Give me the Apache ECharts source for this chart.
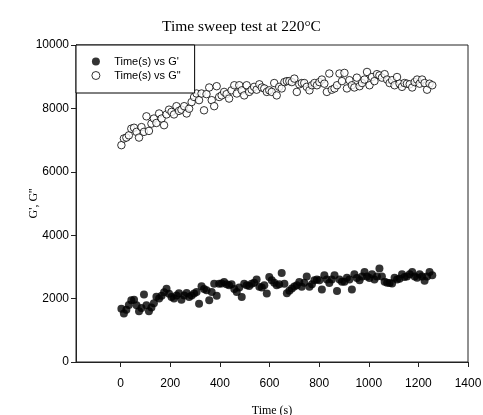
<!DOCTYPE html>
<html lang="en">
<head>
    <meta charset="UTF-8">
    <title>Time sweep test</title>
    <script src="https://cdn.jsdelivr.net/npm/echarts@6/dist/echarts.min.js"></script>
    <style>
        html, body { margin: 0; padding: 0; background: #fff; }
        #main { width: 483px; height: 415px; }
    </style>
</head>
<body>
<div id="main"></div>
<script>
    // time (s)
    var timeS = [3,13,23,33,43,54,64,74,84,94,104,114,124,134,144,155,165,175,185,195,
        205,215,225,235,245,256,266,276,286,296,306,316,326,336,346,357,367,377,387,397,
        407,417,427,437,447,458,468,478,488,498,508,518,528,538,548,559,569,579,589,599,
        609,619,629,639,649,660,670,680,690,700,710,720,730,740,750,761,771,781,791,801,
        811,821,831,841,851,862,872,882,892,902,912,922,932,942,952,963,973,983,993,1003,
        1013,1023,1033,1043,1053,1064,1074,1084,1094,1104,1114,1124,1134,1144,1154,1165,1175,1185,1195,1205,
        1215,1225,1235,1245,1256];

    // G' (filled)
    var gPrime = [1680,1530,1650,1800,1950,1960,1790,1600,1700,2130,1790,1600,1720,1850,2060,2000,2090,2200,2310,2150,
        2050,2000,2100,2170,1960,2100,2180,2050,2100,2160,2210,1840,2390,2300,2260,1950,2210,2470,2090,2470,
        2480,2520,2450,2420,2450,2300,2210,2350,2050,2470,2420,2400,2470,2500,2600,2370,2350,2420,2160,2680,
        2580,2500,2420,2450,2810,2470,2170,2250,2320,2380,2420,2520,2370,2500,2700,2370,2450,2580,2600,2580,
        2290,2740,2600,2490,2600,2740,2240,2600,2530,2530,2660,2600,2290,2770,2650,2580,2700,2840,2700,2650,
        2770,2600,2700,2950,2700,2530,2500,2490,2480,2660,2600,2630,2770,2680,2700,2770,2840,2700,2660,2770,
        2700,2560,2700,2840,2740];

    // G'' (open)
    var gDouble = [6840,7050,7080,7150,7360,7390,7260,7080,7410,7260,7750,7290,7520,7680,7540,7840,7680,7470,7810,7960,
        7890,7810,8070,7920,7960,8070,7840,7990,8200,8360,8470,8260,8470,7940,8450,8660,8260,8070,8700,8360,
        8410,8520,8450,8310,8570,8730,8470,8730,8570,8410,8730,8520,8590,8680,8590,8760,8660,8630,8520,8570,
        8520,8800,8410,8680,8630,8830,8860,8860,8830,8940,8520,8760,8800,8800,8680,8570,8730,8800,8730,8830,
        8910,8780,8520,9100,8590,8630,8730,9100,8860,9120,8630,8890,8730,8660,8970,8700,8800,8910,9150,8730,
        8990,8860,9080,9040,8970,9080,8910,8800,8890,8730,8990,8780,8680,8800,8780,8760,8660,8830,8910,8780,
        8910,8800,8590,8780,8730];

    var xTicks = [0, 200, 400, 600, 800, 1000, 1200, 1400];

    function pairs(xs, ys) {
        var out = [];
        for (var i = 0; i < xs.length; i++) {
            out.push([xs[i], ys[i]]);
        }
        return out;
    }

    var myChart = echarts.init(document.getElementById('main'));

    var sans = 'Arial, "Liberation Sans", sans-serif';
    var serif = '"Times New Roman", "Liberation Serif", serif';

    var options = {
        animation: false,
        title: {
            text: 'Time sweep test at 220°C',
            left: 'center',
            top: 14,
            textStyle: {fontFamily: serif, fontSize: 15.5, fontWeight: 'normal', color: '#000'}
        },
        grid: {
            left: 76, top: 45, right: 15, bottom: 53,
            outerBoundsMode: 'none',
            show: true, borderColor: '#222', borderWidth: 1, backgroundColor: 'transparent'
        },
        legend: {
            orient: 'vertical',
            left: 76, top: 45,
            padding: [10, 14, 11, 15.4],
            itemWidth: 26.6, itemHeight: 8, itemGap: 1,
            borderColor: '#000', borderWidth: 1,
            backgroundColor: '#fff',
            itemStyle: {borderWidth: 1},
            textStyle: {fontFamily: sans, fontSize: 11, color: '#000', lineHeight: 13},
            data: ["Time(s) vs G'", 'Time(s) vs G"']
        },
        xAxis: {
            type: 'value',
            min: -180, max: 1400,
            name: 'Time (s)',
            nameLocation: 'middle',
            nameGap: 43,
            nameMoveOverlap: false,
            nameTextStyle: {fontFamily: serif, fontSize: 12, color: '#000'},
            splitLine: {show: false},
            axisLine: {show: true, onZero: false, lineStyle: {color: '#222'}},
            axisTick: {show: true, inside: false, length: 5, customValues: xTicks, lineStyle: {color: '#222'}},
            axisLabel: {customValues: xTicks, margin: 16, fontFamily: sans, fontSize: 12, color: '#000',
                formatter: function (v) { return String(v); }}
        },
        yAxis: {
            type: 'value',
            min: 0, max: 10000, interval: 2000,
            name: "G', G''",
            nameLocation: 'middle',
            nameGap: 36,
            nameMoveOverlap: false,
            nameTextStyle: {fontFamily: serif, fontSize: 12, color: '#000'},
            splitLine: {show: false},
            axisLine: {show: true, onZero: false, lineStyle: {color: '#222'}},
            axisTick: {show: true, inside: false, length: 5, lineStyle: {color: '#222'}},
            axisLabel: {margin: 7, fontFamily: sans, fontSize: 12, color: '#000',
                formatter: function (v) { return String(v); }}
        },
        series: [{
            name: "Time(s) vs G'",
            type: 'scatter',
            symbol: 'circle',
            symbolSize: 8,
            itemStyle: {color: '#000'},
            data: pairs(timeS, gPrime)
        }, {
            name: 'Time(s) vs G"',
            type: 'scatter',
            symbol: 'circle',
            symbolSize: 7.5,
            itemStyle: {color: '#fff', borderColor: '#000', borderWidth: 1},
            data: pairs(timeS, gDouble)
        }]
    };

    myChart.setOption(options);
</script>
</body>
</html>
